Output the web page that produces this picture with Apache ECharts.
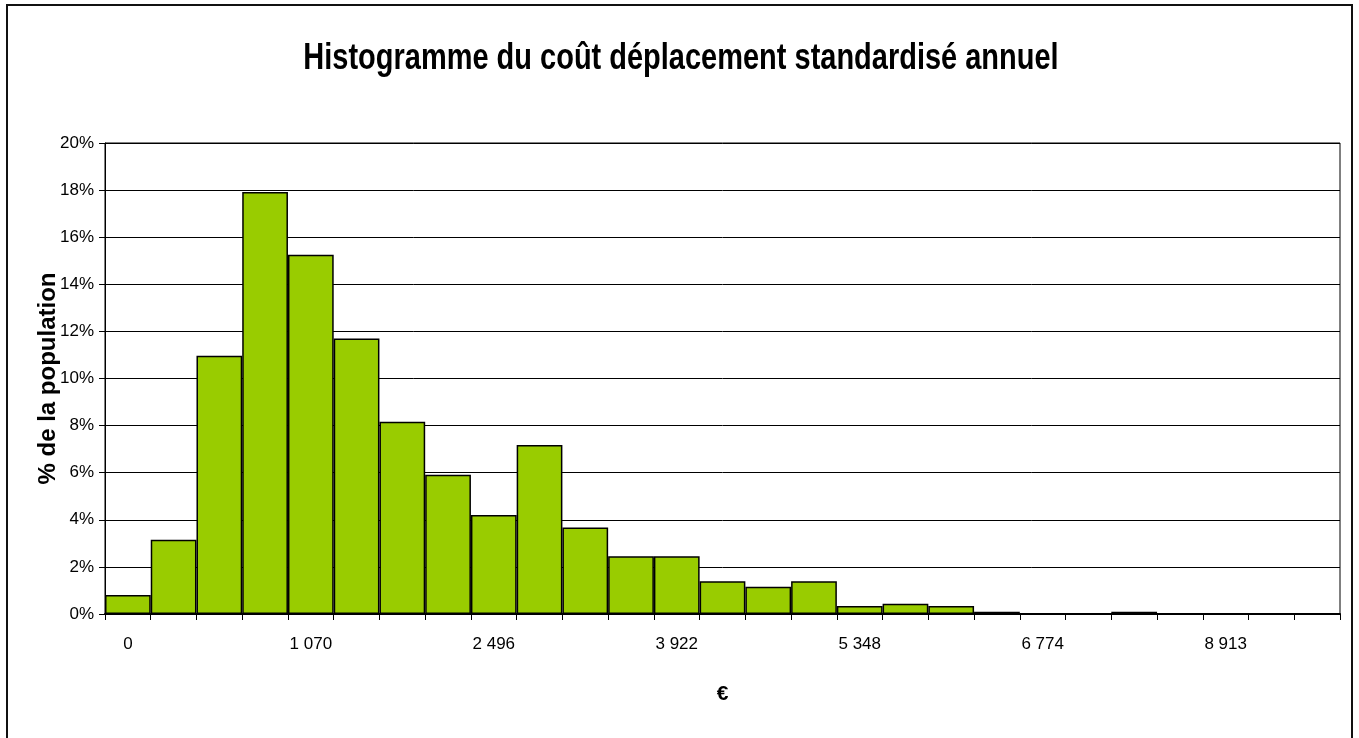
<!DOCTYPE html>
<html>
<head>
<meta charset="utf-8">
<script src="https://cdn.jsdelivr.net/npm/echarts@6/dist/echarts.min.js"></script>
<style>
html,body{margin:0;padding:0;background:#fff;}
#main{width:1359px;height:738px;}
</style>
</head>
<body>
<div id="main"></div>
<script>
// Data
var titleText = 'Histogramme du coût déplacement standardisé annuel';
var yAxisName = '% de la population';
var xAxisName = '€';
var categories = ['0','1','357','713','1 070','1 426','1 783','2 139','2 496','2 852','3 209','3 565','3 922','4 278','4 635','4 991','5 348','5 704','6 061','6 417','6 774','7 308','7 843','8 378','8 913','9 447','9 982'];
var values = [0.81,3.15,10.97,17.92,15.25,11.70,8.16,5.91,4.20,7.18,3.67,2.45,2.45,1.39,1.16,1.39,0.34,0.43,0.34,0.10,0,0,0.10,0,0,0,0];

var sans = '"Liberation Sans", Arial, sans-serif';

var chart = echarts.init(document.getElementById('main'), null, {renderer:'canvas'});
chart.setOption({
  animation:false,
  backgroundColor:'#fff',
  graphic:[
    {type:'rect', shape:{x:7,y:5,width:1345,height:760}, style:{fill:'none', stroke:'#111', lineWidth:2}, silent:true},
    {type:'text', x:681, y:59, scaleX:0.805, scaleY:1, style:{text:titleText, font:'bold 36px '+sans, fill:'#000', align:'center', verticalAlign:'middle'}}
  ],
  grid:{left:105, top:143, width:1235, height:471, show:true, borderColor:'#000', borderWidth:1, containLabel:false},
  xAxis:{
    type:'category', data:categories,
    name:xAxisName, nameLocation:'middle', nameGap:70, nameMoveOverlap:false,
    nameTextStyle:{fontFamily:sans, fontWeight:'bold', fontSize:21, color:'#000'},
    axisLine:{lineStyle:{color:'#000', width:2}},
    axisTick:{show:true, interval:0, length:6, lineStyle:{color:'#000'}},
    axisLabel:{interval:3, margin:22, fontFamily:sans, fontSize:17, color:'#000'}
  },
  yAxis:{
    type:'value', min:0, max:20, interval:2,
    name:yAxisName, nameLocation:'middle', nameGap:45, nameRotate:90, nameMoveOverlap:false,
    nameTextStyle:{fontFamily:sans, fontWeight:'bold', fontSize:24, color:'#000'},
    axisLine:{show:true, lineStyle:{color:'#000'}},
    axisTick:{show:true, length:6, lineStyle:{color:'#000'}},
    axisLabel:{formatter:'{value}%', margin:11, fontFamily:sans, fontSize:17, color:'#000'},
    splitLine:{show:true, lineStyle:{color:'#000', width:1}}
  },
  series:[{
    type:'bar', data:values, barCategoryGap:'0%', barGap:'0%',
    itemStyle:{color:'#99CC00', borderColor:'#000', borderWidth:1.5}
  }]
});
</script>
</body>
</html>
